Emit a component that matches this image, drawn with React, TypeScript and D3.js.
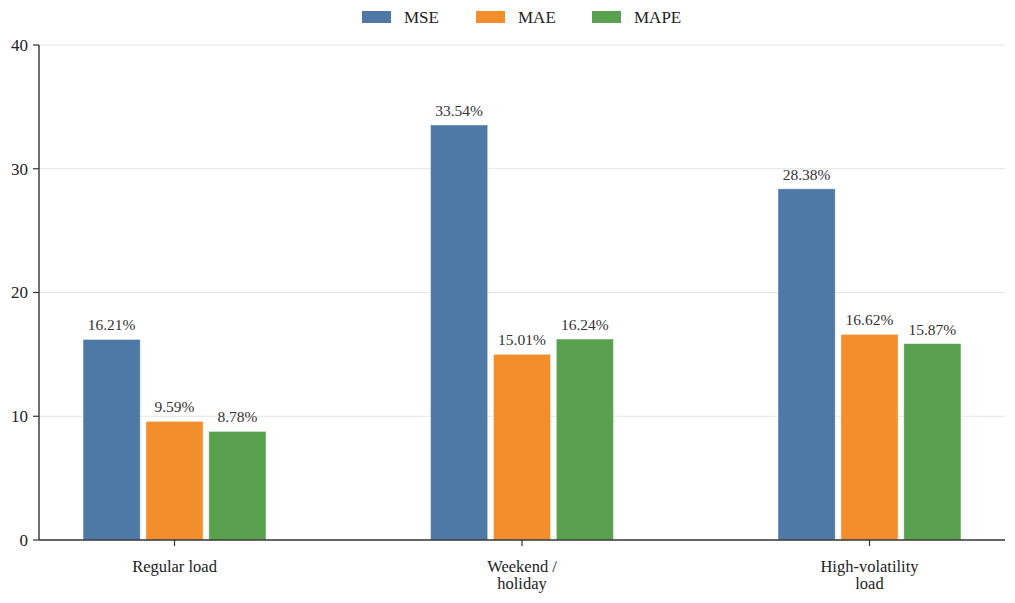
import React from "react";
import * as d3 from "d3";

const categories = ["Regular load", "Weekend / holiday", "High-volatility load"];
const categoryLines = [["Regular load"], ["Weekend /", "holiday"], ["High-volatility", "load"]];
const seriesNames = ["MSE", "MAE", "MAPE"];
const mseValues = [16.21, 33.54, 28.38];
const maeValues = [9.59, 15.01, 16.62];
const mapeValues = [8.78, 16.24, 15.87];
const yTicks = [0, 10, 20, 30, 40];
const colors = ["#4e79a7", "#f28e2b", "#59a14f"];

const W = 1015;
const H = 603;
const margin = { top: 45, right: 10, bottom: 63, left: 39 };
const font = "Times New Roman, Liberation Serif, serif";

export default function App() {
  const series = [mseValues, maeValues, mapeValues];
  const x0 = d3.scalePoint<string>()
    .domain(categories)
    .range([margin.left, W - margin.right])
    .padding(0.39);
  const x1 = d3.scaleBand<string>()
    .domain(seriesNames)
    .range([-91.5, 91.5])
    .paddingInner(0.09);
  const y = d3.scaleLinear()
    .domain([0, 40])
    .range([H - margin.bottom, margin.top]);

  const legendX = [362, 476, 592];

  return (
    <svg width={W} height={H} style={{ position: "absolute", left: 0, top: 0, fontFamily: font }}>
      <rect width={W} height={H} fill="#fff" />
      {yTicks.map(t => (
        <g key={t}>
          {t > 0 && <line x1={margin.left} x2={W - margin.right} y1={y(t)} y2={y(t)} stroke="#e3e3e3" strokeWidth={1} />}
          <line x1={margin.left - 6} x2={margin.left} y1={y(t)} y2={y(t)} stroke="#333" strokeWidth={1.2} />
          <text x={margin.left - 11} y={y(t)} dy="0.35em" textAnchor="end" fontSize={17} fill="#222">{t}</text>
        </g>
      ))}
      {categories.map((c, ci) => (
        <g key={c}>
          {series.map((vals, si) => {
            const bx = (x0(c) as number) + (x1(seriesNames[si]) as number);
            const bw = x1.bandwidth();
            return (
              <g key={si}>
                <rect x={bx} y={y(vals[ci])} width={bw} height={y(0) - y(vals[ci])}
                  fill={colors[si]} stroke="#ffffff" strokeOpacity={0.6} strokeWidth={0.8} />
                <text x={bx + bw / 2} y={y(vals[ci]) - 9} textAnchor="middle" fontSize={15.5} fill="#333">
                  {vals[ci].toFixed(2)}%
                </text>
              </g>
            );
          })}
          <line x1={x0(c)} x2={x0(c)} y1={y(0)} y2={y(0) + 6} stroke="#333" strokeWidth={1.2} />
          {categoryLines[ci].map((ln, li) => (
            <text key={li} x={x0(c)} y={y(0) + 32 + li * 17} textAnchor="middle" fontSize={16.5} fill="#222">{ln}</text>
          ))}
        </g>
      ))}
      <line x1={margin.left} x2={margin.left} y1={margin.top} y2={y(0)} stroke="#333" strokeWidth={1.4} />
      <line x1={margin.left} x2={W - margin.right} y1={y(0)} y2={y(0)} stroke="#333" strokeWidth={1.4} />
      {seriesNames.map((s, i) => (
        <g key={s}>
          <rect x={legendX[i]} y={11} width={29} height={12} fill={colors[i]} />
          <text x={legendX[i] + 42} y={17} dy="0.35em" fontSize={17} fill="#222">{s}</text>
        </g>
      ))}
    </svg>
  );
}
